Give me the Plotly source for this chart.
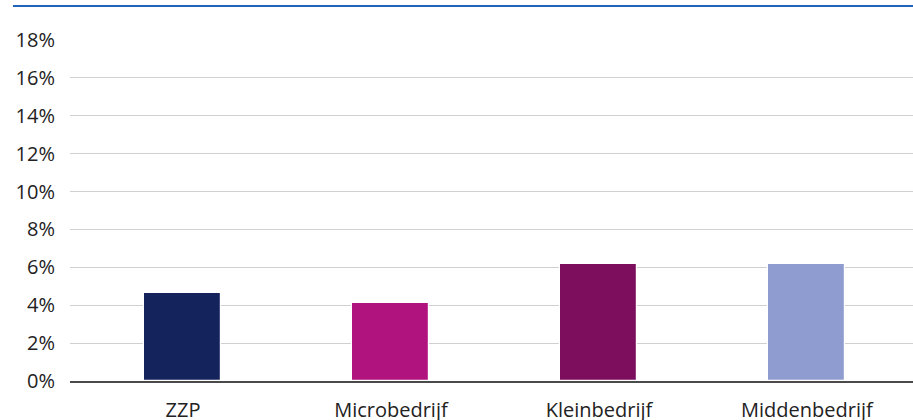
import plotly.graph_objects as go

categories = ["ZZP", "Microbedrijf", "Kleinbedrijf", "Middenbedrijf"]
values = [4.65, 4.13, 6.15, 6.2]
colors = ["#14235C", "#B0127E", "#7D0E5E", "#8F9CD0"]
y_ticks = [0, 2, 4, 6, 8, 10, 12, 14, 16, 18]
y_tick_labels = [f"{v}%" for v in y_ticks]

fig = go.Figure(go.Bar(
    x=categories, y=values,
    marker=dict(color=colors, line=dict(color="white", width=1.2)),
    width=0.37,
))

fig.update_layout(
    width=913, height=420,
    margin=dict(l=70, r=0, t=40, b=39),
    plot_bgcolor="white", paper_bgcolor="white",
    font=dict(family="Open Sans", color="#222", size=19),
    showlegend=False,
    bargap=0,
)
fig.update_xaxes(
    range=[-0.543, 3.51], showgrid=False, showline=True, linecolor="#4a4a4a",
    linewidth=1.5, ticks="", tickfont=dict(size=20), ticklabelstandoff=10,
    automargin=False,
)
fig.update_yaxes(
    range=[0, 18], tickvals=y_ticks, ticktext=y_tick_labels,
    showgrid=True, gridcolor="#d0d0d0", gridwidth=1, zeroline=False,
    ticks="", ticklabelstandoff=14, tickfont=dict(size=20), automargin=False,
)
fig.add_shape(type="line", xref="paper", yref="paper",
              x0=(13 - 70) / 843, x1=1, y0=(381 - 6) / 341, y1=(381 - 6) / 341,
              line=dict(color="#1F64B8", width=2))

fig.write_html("out.html", config={"displayModeBar": False},
               post_script="document.body.style.margin='0';")
